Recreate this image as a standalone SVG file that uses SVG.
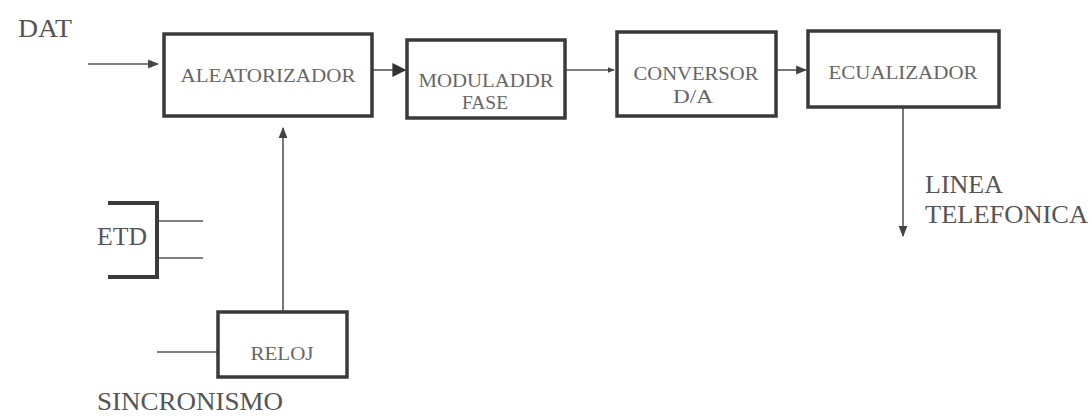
<svg xmlns="http://www.w3.org/2000/svg" width="1092" height="417" viewBox="0 0 1092 417">
<defs>
<style>
.box{fill:#fff;stroke:#3a3a3a;stroke-width:3.5}
.ln{stroke:#555;stroke-width:1.6;fill:none}
.bt{font-family:"Liberation Serif","DejaVu Serif","Times New Roman",serif;font-size:18px;fill:#666;text-anchor:middle}
.lb{font-family:"Liberation Serif","DejaVu Serif","Times New Roman",serif;font-size:25px;fill:#555}
</style>
<marker id="ah" viewBox="0 0 10 10" refX="9" refY="5" markerWidth="7" markerHeight="7" orient="auto" markerUnits="userSpaceOnUse"><path d="M0,1 L10,5 L0,9 Z" fill="#444"/></marker>
<marker id="ahb" viewBox="0 0 10 10" refX="9" refY="5" markerWidth="14" markerHeight="14" orient="auto" markerUnits="userSpaceOnUse"><path d="M0,0 L10,5 L0,10 Z" fill="#333"/></marker>
<marker id="ahm" viewBox="0 0 10 10" refX="9" refY="5" markerWidth="11" markerHeight="11" orient="auto" markerUnits="userSpaceOnUse"><path d="M0,1 L10,5 L0,9 Z" fill="#444"/></marker>
</defs>
<rect width="1092" height="417" fill="#fff"/>
<text class="lb" x="18" y="37" textLength="54" lengthAdjust="spacingAndGlyphs">DAT</text>
<g id="connectors">
<line class="ln" x1="88" y1="64" x2="158" y2="64" marker-end="url(#ahm)"/>
<line class="ln" x1="373" y1="70" x2="405" y2="70" stroke-width="2.2" marker-end="url(#ahb)"/>
<line class="ln" x1="566" y1="70" x2="614" y2="70" marker-end="url(#ah)"/>
<line class="ln" x1="777" y1="70" x2="806" y2="70" marker-end="url(#ahm)"/>
<line class="ln" x1="903" y1="108" x2="903" y2="236" marker-end="url(#ahm)"/>
<line class="ln" x1="283" y1="311" x2="283" y2="128" marker-end="url(#ahm)"/>
<line class="ln" x1="157" y1="352" x2="218" y2="352"/>
<line class="ln" x1="157" y1="221" x2="203" y2="221"/>
<line class="ln" x1="157" y1="258" x2="203" y2="258"/>
</g>
<g id="aleatorizador"><rect class="box" x="164" y="34" width="208" height="82"/><text class="bt" x="268" y="82" textLength="175" lengthAdjust="spacingAndGlyphs">ALEATORIZADOR</text></g>
<g id="modulador"><rect class="box" x="407" y="40" width="158" height="78"/><text class="bt" x="486" y="87" textLength="135" lengthAdjust="spacingAndGlyphs">MODULADDR</text><text class="bt" x="485" y="109" textLength="46" lengthAdjust="spacingAndGlyphs">FASE</text></g>
<g id="conversor"><rect class="box" x="617" y="32" width="159" height="84"/><text class="bt" x="696" y="80" textLength="125" lengthAdjust="spacingAndGlyphs">CONVERSOR</text><text class="bt" x="693" y="103" textLength="40" lengthAdjust="spacingAndGlyphs">D/A</text></g>
<g id="ecualizador"><rect class="box" x="808" y="31" width="191" height="76"/><text class="bt" x="903" y="79" textLength="149" lengthAdjust="spacingAndGlyphs">ECUALIZADOR</text></g>
<g id="reloj"><rect class="box" x="218" y="312" width="129" height="65"/><text class="bt" x="282" y="360" textLength="63" lengthAdjust="spacingAndGlyphs">RELOJ</text></g>
<g id="etd">
<path d="M108,203 L157,203 L157,277 L108,277" fill="none" stroke="#3a3a3a" stroke-width="4"/>
<text class="lb" x="97" y="245" textLength="50" lengthAdjust="spacingAndGlyphs">ETD</text>
</g>
<g id="linea"><text class="lb" x="925" y="193" textLength="78" lengthAdjust="spacingAndGlyphs">LINEA</text><text class="lb" x="925" y="223" textLength="163" lengthAdjust="spacingAndGlyphs">TELEFONICA</text></g>
<g id="sincronismo"><text class="lb" x="97" y="410" textLength="186" lengthAdjust="spacingAndGlyphs">SINCRONISMO</text></g>
</svg>
